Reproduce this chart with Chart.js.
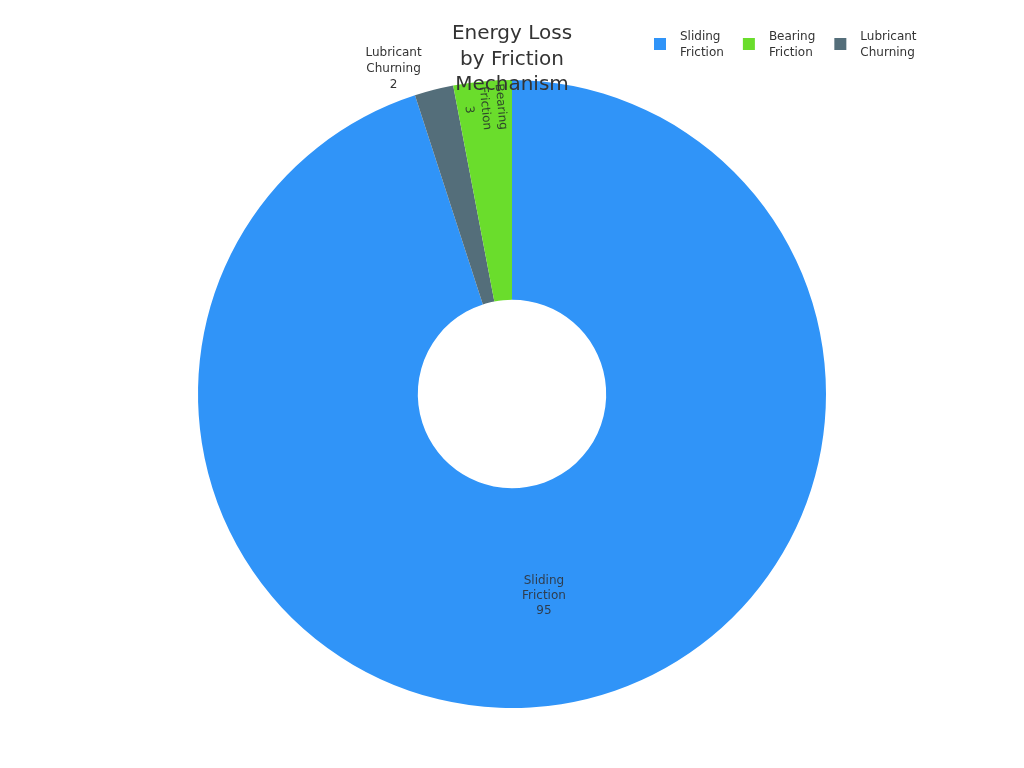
<!DOCTYPE html>
<html>
<head>
<meta charset="utf-8">
<script src="https://cdn.jsdelivr.net/npm/chart.js@4"></script>
<style>
  html, body { margin: 0; padding: 0; background: #fff; }
  #wrap { width: 1024px; height: 768px; }
</style>
</head>
<body>
<div id="wrap"><canvas id="myChart"></canvas></div>
<script>
// legend order
var categories = ['Sliding Friction', 'Bearing Friction', 'Lubricant Churning'];
var values = [95, 3, 2];
var colors = ['#3094f8', '#6add2c', '#546e7a'];
// order the slices run clockwise from 12 o'clock
var sliceOrder = [0, 2, 1];
var titleLines = ['Energy Loss', 'by Friction', 'Mechanism'];

var FONT = '"DejaVu Sans", sans-serif';

var data1 = {
    labels: sliceOrder.map(function(i) { return categories[i]; }),
    datasets: [
        {
            label: 'Energy loss',
            data: sliceOrder.map(function(i) { return values[i]; }),
            backgroundColor: sliceOrder.map(function(i) { return colors[i]; }),
            borderWidth: 0
        }
    ]
};

function splitName(name) {
    return name.split(' ');
}

// slice labels, title and legend drawn by hand
var decor = {
    id: 'decor',
    afterDatasetsDraw: function(chart) {
        var ctx = chart.ctx;
        var meta = chart.getDatasetMeta(0);
        ctx.save();
        ctx.font = '12px ' + FONT;
        ctx.textAlign = 'center';
        ctx.textBaseline = 'middle';
        meta.data.forEach(function(arc, k) {
            var p = arc.getProps(['x', 'y', 'startAngle', 'endAngle', 'innerRadius', 'outerRadius'], true);
            var mid = (p.startAngle + p.endAngle) / 2;
            var lines = splitName(data1.labels[k]).concat([String(data1.datasets[0].data[k])]);
            var share = data1.datasets[0].data[k];
            if (share >= 50) {
                var r = (p.innerRadius + p.outerRadius) / 2;
                var x = p.x + Math.cos(mid) * r;
                var y = p.y + Math.sin(mid) * r;
                ctx.fillStyle = '#2f3d4e';
                lines.forEach(function(t, i) { ctx.fillText(t, x, y + (i - 1) * 15); });
            } else if (share >= 3) {
                var r2 = p.outerRadius - 27;
                var x2 = p.x + Math.cos(mid) * r2;
                var y2 = p.y + Math.sin(mid) * r2;
                ctx.save();
                ctx.translate(x2, y2);
                ctx.rotate(mid + Math.PI);
                ctx.fillStyle = '#2f4a2a';
                lines.forEach(function(t, i) { ctx.fillText(t, 0, (i - 1) * 16); });
                ctx.restore();
            } else {
                var a = mid - 0.1;
                var r3 = p.outerRadius + 36;
                var x3 = p.x + Math.cos(a) * r3 + 2;
                var y3 = p.y + Math.sin(a) * r3 + 3;
                ctx.fillStyle = '#333';
                lines.forEach(function(t, i) { ctx.fillText(t, x3, y3 + (i - 1) * 16); });
            }
        });
        ctx.restore();
    },
    afterDraw: function(chart) {
        var ctx = chart.ctx;
        ctx.save();
        // title
        ctx.fillStyle = '#333';
        ctx.font = '20px ' + FONT;
        ctx.textAlign = 'center';
        ctx.textBaseline = 'middle';
        titleLines.forEach(function(t, i) {
            ctx.fillText(t, chart.width / 2, 34 + i * 25.5);
        });
        // legend
        ctx.font = '12px ' + FONT;
        ctx.textAlign = 'left';
        var lx = 654;
        categories.forEach(function(name, i) {
            ctx.fillStyle = colors[i];
            ctx.fillRect(lx, 38, 12, 12);
            ctx.fillStyle = '#333';
            var parts = splitName(name);
            parts.forEach(function(t, j) {
                ctx.fillText(t, lx + 26, 37 + j * 16);
            });
            var w = Math.max.apply(null, parts.map(function(t) { return ctx.measureText(t).width; }));
            lx += 26 + w + 19;
        });
        ctx.restore();
    }
};

var options = {
    responsive: true,
    maintainAspectRatio: false,
    animation: false,
    cutout: '30%',
    layout: {
        padding: { top: 80, bottom: 60, left: 0, right: 0 }
    },
    plugins: {
        legend: { display: false },
        title: { display: false },
        tooltip: { enabled: false }
    }
};

var ctx1 = document.getElementById('myChart').getContext('2d');
var myChart = new Chart(ctx1, {
    type: 'doughnut',
    data: data1,
    options: options,
    plugins: [decor]
});
</script>
</body>
</html>
